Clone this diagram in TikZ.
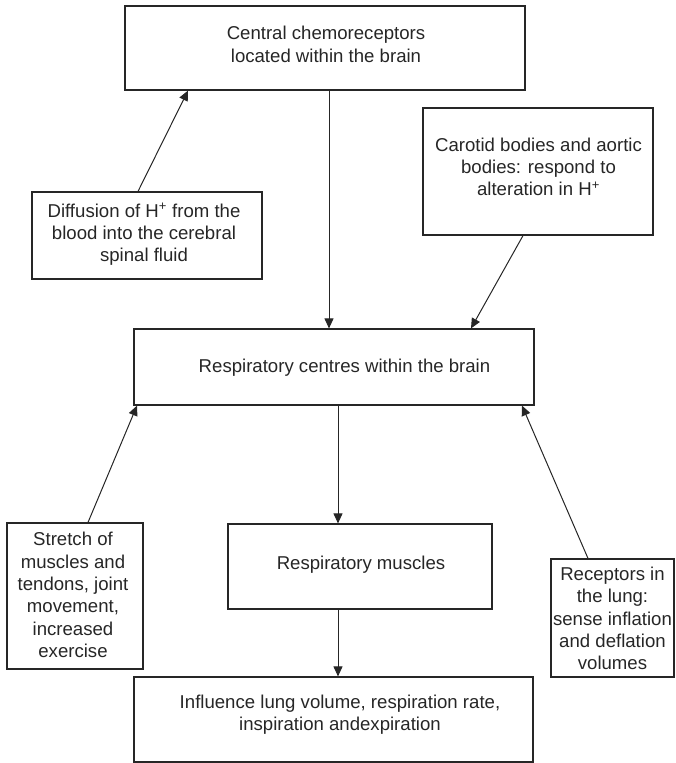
\documentclass[tikz,border=0pt]{standalone}
\usepackage{fontspec}
\setmainfont{Liberation Sans}
\usetikzlibrary{arrows.meta}
\begin{document}
\begin{tikzpicture}[x=1pt,y=-1pt,
  box/.style={draw=black!85, line width=1.2pt, rectangle, inner sep=0pt},
  txt/.style={align=center, inner sep=0pt, font=\fontsize{18.6}{22.3}\selectfont, text=black!85},
  arr/.style={draw=black!85, line width=1pt, -{Triangle[length=10pt,width=9pt]}}]
\useasboundingbox (0,0) rectangle (675,763);
% boxes
\node[box, minimum width=400pt, minimum height=84pt]  (cc)  at (325,48)    {};
\node[box, minimum width=230pt, minimum height=127pt] (car) at (538,171.5) {};
\node[box, minimum width=230pt, minimum height=87pt]  (dif) at (147,235.5) {};
\node[box, minimum width=400pt, minimum height=76pt]  (rc)  at (334,367)   {};
\node[box, minimum width=136pt, minimum height=146pt] (st)  at (75,596)    {};
\node[box, minimum width=264pt, minimum height=85pt]  (mu)  at (360,566.5) {};
\node[box, minimum width=123pt, minimum height=118pt] (rec) at (612.5,618) {};
\node[box, minimum width=399pt, minimum height=85pt]  (inf) at (333.5,719.5) {};
% texts
\node[txt] (cct)  at (326,44.3)   {Central chemoreceptors\\located within the brain};
\node[txt] (cart) at (538.5,166.8) {Carotid bodies and aortic\\bodies: respond to\\alteration in H\textsuperscript{+}};
\node[txt] (dift) at (144,234.5)  {Diffusion of H\textsuperscript{+} from the\\blood into the cerebral\\spinal fluid};
\node[txt] (rct)  at (344.5,367.3) {Respiratory centres within the brain};
\node[txt] (stt)  at (73,594.9)   {Stretch of\\muscles and\\tendons, joint\\movement,\\increased\\exercise};
\node[txt] (mut)  at (361,565)    {Respiratory muscles};
\node[txt] (rect) at (612.5,618.5) {Receptors in\\the lung:\\sense inflation\\and deflation\\volumes};
\node[txt] (inft) at (340,714.7)  {Influence lung volume, respiration rate,\\inspiration andexpiration};
% connectors
\draw[arr] (dif.north -| 138,0) -- (cc.south -| 188,0);
\draw[arr] (cc.south -| 329,0) -- (rc.north -| 329,0);
\draw[arr] (car.south -| 523,0) -- (rc.north -| 471,0);
\draw[arr] (rc.south -| 338,0) -- (mu.north -| 338,0);
\draw[arr] (st.north -| 88,0) -- (rc.south -| 137,0);
\draw[arr] (rec.north -| 588,0) -- (rc.south -| 522,0);
\draw[arr] (mu.south -| 338,0) -- (inf.north -| 338,0);
\end{tikzpicture}
\end{document}
